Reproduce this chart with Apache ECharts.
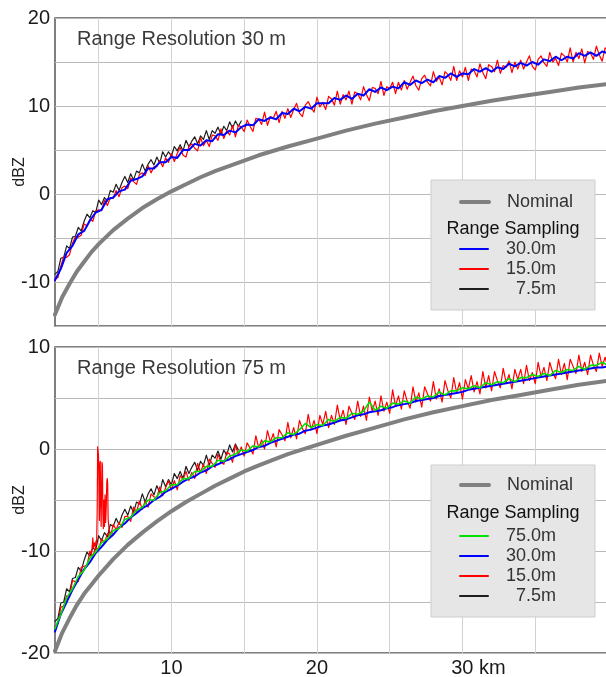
<!DOCTYPE html>
<html>
<head>
<meta charset="utf-8">
<script src="https://cdn.jsdelivr.net/npm/echarts@6/dist/echarts.min.js"></script>
<style>html,body{margin:0;padding:0;background:#fff}#c{width:606px;height:677px}</style>
</head>
<body>
<div id="c"></div>
<script>
// ---------- data ----------
const rangeStartKm = 2.0;      // first range gate shown
const fineStepKm = 0.2;        // spacing of 15.0 m / 7.5 m samples
const coarseStepKm = 0.4;      // spacing of 75.0 m / 30.0 m samples

const xGridKm = [5, 10, 15, 20, 25, 30, 35];
const xLabelKm = [10, 20, 30];
const xLabelText = ['10', '20', '30 km'];

const nominalRangeKm = [2, 2.5, 3, 3.5, 4, 4.5, 5, 5.5, 6, 7, 8, 9, 10, 11, 12, 13, 14, 15, 16, 18, 20, 22, 24, 26, 28, 30, 32, 34, 36, 38, 40];
const nominalTop = [-13.7, -11.7, -10.2, -8.8, -7.7, -6.6, -5.7, -4.9, -4.1, -2.8, -1.6, -0.6, 0.3, 1.1, 1.9, 2.6, 3.2, 3.8, 4.4, 5.4, 6.3, 7.2, 8.0, 8.7, 9.4, 10.0, 10.6, 11.1, 11.6, 12.1, 12.5];
const nominalBottom = [-19.8, -18.0, -16.6, -15.3, -14.2, -13.3, -12.4, -11.6, -10.8, -9.4, -8.2, -7.1, -6.1, -5.2, -4.4, -3.6, -2.9, -2.2, -1.6, -0.5, 0.4, 1.3, 2.1, 2.9, 3.6, 4.2, 4.8, 5.3, 5.8, 6.3, 6.7];

// Top panel (range resolution 30 m)
const top30m = [-9.8,-8.5,-6.7,-5.9,-4.6,-4.2,-3.0,-2.1,-1.8,-0.6,
  -0.4,0.3,0.5,1.5,1.7,2.0,2.9,2.9,3.6,3.6,
  4.2,4.1,5.0,5.0,5.7,5.5,6.1,6.0,6.8,6.7,
  7.2,7.0,7.6,7.9,7.8,8.5,8.3,8.7,8.5,9.2,
  9.1,9.7,9.4,9.9,9.7,10.3,10.3,10.3,10.9,10.7,
  11.2,10.8,11.4,11.2,11.9,11.6,12.1,11.8,12.2,12.0,
  12.7,12.4,12.9,12.6,13.0,12.7,13.4,13.2,13.7,13.3,
  13.7,13.6,14.2,13.9,14.3,13.9,14.4,14.2,14.8,14.5,
  14.9,14.6,15.0,14.7,15.3,15.1,15.6,15.2,15.6,15.4,
  16.0,15.7,16.1,15.7,16.2,16.0];
const top15m = [-9.6,-9.5,-8.2,-7.1,-7.2,-6.9,-5.6,-4.9,-4.9,-4.7,
  -3.4,-3.6,-2.9,-3.1,-1.9,-1.8,-1.9,-0.7,-1.3,-0.4,
  -0.5,0.4,-0.3,0.7,0.9,0.6,1.8,1.4,1.1,2.2,
  2.4,2.1,3.2,2.4,3.1,3.1,3.8,3.1,4.1,3.6,
  4.6,3.7,4.6,5.3,4.4,4.2,5.4,5.7,5.2,4.9,
  6.4,5.5,6.1,5.4,6.7,6.6,6.1,7.4,6.3,7.2,
  6.7,7.8,6.5,7.8,7.6,7.1,8.4,7.7,7.1,8.6,
  8.5,7.9,9.3,7.8,8.8,8.6,9.4,8.1,9.4,8.6,
  9.7,8.7,9.6,10.3,9.2,8.8,10.1,10.5,9.8,9.3,
  11.0,9.9,10.4,9.6,11.1,10.8,10.1,11.7,10.2,11.3,
  10.7,11.7,10.2,11.6,11.4,10.7,12.2,11.3,10.6,12.1,
  12.0,11.4,12.8,11.2,12.2,12.0,12.7,11.4,12.7,11.8,
  12.9,11.9,12.7,13.4,12.3,11.8,13.1,13.5,12.7,12.3,
  13.9,12.8,13.3,12.4,13.9,13.6,12.9,14.5,12.9,14.0,
  13.3,14.4,12.9,14.2,14.0,13.3,14.8,13.8,13.1,14.7,
  14.5,13.9,15.2,13.7,14.6,14.4,15.1,13.8,15.0,14.2,
  15.2,14.2,15.0,15.7,14.5,14.1,15.3,15.7,14.9,14.5,
  16.1,15.0,15.4,14.6,16.0,15.7,15.0,16.6,15.0,16.1,
  15.4,16.5,14.9,16.2,16.0,15.3,16.8,15.8,15.1,16.6,
  16.4];
const top7p5m = [-9.1,-8.8,-7.3,-7.2,-5.9,-6.2,-4.9,-4.8,-3.8,-4.2,
  -3.1,-2.3,-2.7,-1.9,-2.1,-0.7,-1.2,-0.4,-0.8,0.4,
  0.2,1.1,0.4,1.3,2.0,1.3,2.3,1.6,2.6,2.4,
  3.4,2.6,3.4,3.9,3.3,4.2,3.5,4.8,4.2,4.8,
  4.3,5.4,4.9,5.6,4.9,6.1,5.4,6.0,6.5,5.7,
  6.6,6.2,7.2,6.2,7.2,6.9,7.6,6.8,7.7,7.2,
  8.2,7.5,8.3,7.7,8.3];

// Bottom panel (range resolution 75 m)
const bot75m = [-17.6,-16.2,-14.6,-13.7,-12.5,-11.9,-10.7,-10.1,-9.2,-8.8,
  -8.0,-7.8,-6.9,-6.7,-6.0,-5.7,-5.0,-5.0,-4.3,-4.1,
  -3.5,-3.5,-2.9,-2.9,-2.2,-2.2,-1.7,-1.7,-1.1,-1.2,
  -0.7,-0.5,-0.1,-0.2,0.3,0.2,0.8,0.7,1.1,1.1,
  1.6,1.4,1.9,2.5,2.1,2.4,2.3,2.9,2.7,3.1,
  3.0,3.5,3.4,3.7,4.6,3.8,4.2,4.0,4.5,4.4,
  4.7,4.5,5.1,4.9,5.2,5.1,5.6,5.3,5.7,5.7,
  6.0,5.9,6.2,6.0,6.5,6.3,6.6,6.5,6.9,6.6,
  7.0,7.0,7.3,7.1,7.4,7.2,7.7,7.5,7.8,7.7,
  8.1,7.8,8.2,8.2,8.5,8.2];
const bot30m = [-17.9,-16.2,-15.0,-13.8,-12.8,-11.8,-11.1,-10.2,-9.6,-8.9,
  -8.4,-7.7,-7.3,-6.7,-6.3,-5.8,-5.5,-5.0,-4.7,-4.2,
  -3.9,-3.6,-3.2,-2.9,-2.7,-2.3,-2.1,-1.7,-1.5,-1.2,
  -1.0,-0.7,-0.5,-0.3,-0.1,0.2,0.3,0.6,0.8,1.0,
  1.2,1.4,1.5,1.8,1.9,2.1,2.3,2.4,2.6,2.8,
  2.9,3.1,3.3,3.4,3.6,3.7,3.8,4.0,4.1,4.3,
  4.4,4.5,4.7,4.8,4.9,5.0,5.2,5.3,5.4,5.5,
  5.6,5.8,5.9,6.0,6.1,6.2,6.3,6.4,6.5,6.6,
  6.7,6.8,6.9,7.0,7.1,7.2,7.3,7.4,7.5,7.6,
  7.7,7.8,7.9,8.0,8.0,8.1];
const bot15m = [-17.4,-17.1,-15.5,-15.4,-14.4,-14.5,-12.9,-13.0,-13.0,-11.6,
  -11.5,-11.4,-10.0,-10.5,-9.6,-9.9,-8.8,-9.2,-8.3,-8.7,
  -7.4,-7.9,-7.2,-7.7,-6.6,-6.6,-7.1,-5.7,-6.2,-5.1,
  -5.9,-5.1,-5.7,-4.4,-4.7,-4.8,-3.7,-4.6,-3.8,-3.1,
  -4.0,-3.1,-4.0,-2.6,-3.0,-2.2,-3.1,-2.3,-2.9,-1.4,
  -2.3,-1.5,-2.4,-1.0,-1.4,-1.8,-0.5,-1.3,-1.5,-0.3,
  -0.5,-1.3,0.4,-0.6,0.2,-0.7,0.6,0.1,-0.5,1.3,
  0.1,0.9,0.0,1.8,0.7,1.5,0.2,1.9,1.4,0.8,
  2.6,1.1,2.1,1.0,2.8,2.0,1.5,3.4,1.9,2.8,
  1.5,3.3,2.4,3.7,2.1,3.3,2.4,4.3,2.8,3.8,
  2.4,4.2,3.5,2.9,4.7,3.2,4.2,2.8,5.1,3.7,
  4.7,3.3,5.2,3.7,4.6,3.5,5.8,4.2,5.2,3.9,
  5.7,4.7,4.0,6.1,4.6,5.5,4.1,6.1,5.4,4.7,
  6.6,4.9,5.9,4.6,6.7,5.7,5.0,7.0,5.5,6.5,
  4.9,6.8,5.9,7.2,5.6,6.6,5.4,7.6,6.0,7.2,
  5.7,7.6,6.7,6.0,7.9,6.5,7.3,5.9,7.8,6.8,
  7.8,6.4,8.2,6.7,7.5,6.4,8.5,7.1,8.0,6.7,
  8.5,7.5,6.9,8.8,7.3,8.4,6.8,8.8,8.1,7.4,
  9.2,7.6,8.5,7.3,9.2,8.2,7.6,9.4,8.1,9.0,
  7.9];
const bot7p5m = [-16.9,-16.6,-15.1,-15.0,-13.7,-14.0,-12.7,-12.6,-11.6,-12.0,
  -10.9,-10.1,-10.5,-9.7,-9.9,-8.5,-9.0,-8.2,-8.6,-7.4,
  -7.6,-6.8,-7.4,-6.5,-5.9,-6.5,-5.6,-6.2,-5.2,-5.4,
  -4.4,-5.2,-4.4,-3.9,-4.5,-3.6,-4.3,-3.0,-3.7,-3.0,
  -3.5,-2.4,-2.9,-2.2,-2.9,-1.7,-2.4,-1.8,-1.3,-2.1,
  -1.2,-1.6,-0.6,-1.6,-0.6,-0.9,-0.2,-1.0,-0.1,-0.6,
  0.4,-0.3,0.5,-0.1];
// clutter spike in the 15.0 m sampling near 5 km
const spikeRangeKm = [4.50,4.56,4.60,4.64,4.70,4.76,4.82,4.86,4.90,4.93,4.96,4.99,5.02,5.05,5.08,5.11,5.14,5.17,5.20,5.23,5.26,5.29,5.32,5.36,5.40,5.44,5.48,5.52,5.56,5.59,5.62,5.65,5.68,5.72,5.78,5.86,5.94];
const spikeDbz = [-10.4,-9.5,-8.7,-9.7,-9.2,-9.6,-9.0,-9.4,-6.0,0.2,0.1,-0.6,-3.5,-7.0,-1.4,-1.2,-5.5,-7.6,-4.0,-1.3,-1.6,-6.3,-7.8,-5.0,-7.6,-4.5,-7.2,-5.8,-3.2,-2.9,-3.4,-6.8,-7.4,-7.9,-8.4,-8.1,-8.3];

// ---------- chart ----------
const FONT = '"Liberation Sans", Arial, Helvetica, sans-serif';
const NAME_7P5 = '  7.5m';
const C = { nominal: '#808080', blue: '#0000ff', red: '#ff0000', black: '#1e1e1e', green: '#00e000' };

function gates(values, step) {
  return values.map((v, i) => [Math.round((rangeStartKm + i * step) * 100) / 100, v]);
}
function zip(xs, ys) { return ys.map((y, i) => [xs[i], y]); }

function lineSeries(name, data, color, width, idx) {
  return {
    name, type: 'line', data, xAxisIndex: idx, yAxisIndex: idx,
    symbol: 'none', showSymbol: false, color,
    lineStyle: { color, width, join: 'round', cap: 'round' }, smooth: false,
    emphasis: { disabled: true }, silent: true, clip: true
  };
}

const panels = [
  { top: 18, height: 308, min: -15, max: 20, title: 'Range Resolution 30 m' },
  { top: 347, height: 306, min: -20, max: 10, title: 'Range Resolution 75 m' }
];

const legendCommon = {
  orient: 'vertical', padding: 0, itemGap: 0, itemWidth: 28, itemHeight: 2,
  selectedMode: false,
  textStyle: { fontSize: 18, color: '#333', lineHeight: 20, fontFamily: FONT, padding: [0, 0, 0, 13] }
};

const option = {
  animation: false,
  backgroundColor: '#ffffff',
  textStyle: { fontFamily: FONT },
  title: panels.map(p => ({
    text: p.title, left: 77, top: p.top + 11, padding: 0,
    textStyle: { fontSize: 20, fontWeight: 'normal', color: '#3a3a3a', fontFamily: FONT }
  })),
  grid: panels.map(p => ({
    left: 55, right: -2, top: p.top, height: p.height, show: true,
    outerBoundsMode: 'none', containLabel: false,
    borderColor: '#555', borderWidth: 1.5, backgroundColor: 'transparent'
  })),
  xAxis: panels.map((p, i) => ({
    type: 'value', gridIndex: i, min: 2, max: 40.0,
    axisLine: { show: false },
    axisTick: { show: false, customValues: xGridKm },
    splitLine: { show: true, lineStyle: { color: '#d2d2d2', width: 1 } },
    axisLabel: i === 0 ? { show: false } : {
      show: true, customValues: xLabelKm, fontSize: 20, color: '#1a1a1a', margin: 5,
      formatter: v => {
        const t = xLabelText[xLabelKm.indexOf(v)];
        return t && t.indexOf(' ') > 0 ? '{pad| }' + t : (t || '');
      },
      rich: { pad: { width: 32, fontSize: 20 } }
    }
  })),
  yAxis: panels.map((p, i) => ({
    type: 'value', gridIndex: i, min: p.min, max: p.max, interval: 5,
    axisLine: { show: false }, axisTick: { show: false },
    splitLine: { show: true, lineStyle: { color: '#b9b9b9', width: 1 } },
    axisLabel: { fontSize: 20, color: '#1a1a1a', margin: 5, formatter: v => (v % 10 === 0 ? String(v) : '') },
    name: 'dBZ', nameLocation: 'middle', nameRotate: 90, nameGap: 27, nameMoveOverlap: false,
    nameTextStyle: { fontSize: 16, color: '#222' }
  })),
  legend: [
    Object.assign({}, legendCommon, { data: ['Nominal'], left: 459, top: 192, lineStyle: { width: 4 } }),
    Object.assign({}, legendCommon, { data: ['30.0m', '15.0m', NAME_7P5], left: 459, top: 239, lineStyle: { width: 2 } }),
    Object.assign({}, legendCommon, { data: ['Nominal'], left: 459, top: 475, lineStyle: { width: 4 } }),
    Object.assign({}, legendCommon, { data: ['75.0m', '30.0m', '15.0m', NAME_7P5], left: 459, top: 526, lineStyle: { width: 2 } })
  ],
  graphic: [
    { type: 'rect', z: 3, shape: { x: 431, y: 180, width: 164, height: 130 }, style: { fill: '#e6e6e6', stroke: '#cdcdcd', lineWidth: 1 } },
    { type: 'text', z: 5, x: 513, y: 229, style: { text: 'Range Sampling', fontSize: 18, fontFamily: FONT, fill: '#111', align: 'center', verticalAlign: 'middle' } },
    { type: 'rect', z: 3, shape: { x: 431, y: 465, width: 164, height: 152 }, style: { fill: '#e6e6e6', stroke: '#cdcdcd', lineWidth: 1 } },
    { type: 'text', z: 5, x: 513, y: 513, style: { text: 'Range Sampling', fontSize: 18, fontFamily: FONT, fill: '#111', align: 'center', verticalAlign: 'middle' } }
  ],
  series: [
    lineSeries('Nominal', zip(nominalRangeKm, nominalTop), C.nominal, 4, 0),
    lineSeries(NAME_7P5, gates(top7p5m, fineStepKm), C.black, 1.2, 0),
    lineSeries('15.0m', gates(top15m, fineStepKm), C.red, 1.2, 0),
    lineSeries('30.0m', gates(top30m, coarseStepKm), C.blue, 2, 0),

    lineSeries('Nominal', zip(nominalRangeKm, nominalBottom), C.nominal, 4, 1),
    lineSeries(NAME_7P5, gates(bot7p5m, fineStepKm), C.black, 1.2, 1),
    lineSeries('15.0m', gates(bot15m, fineStepKm), C.red, 1.2, 1),
    lineSeries('15.0m', zip(spikeRangeKm, spikeDbz), C.red, 1.2, 1),
    lineSeries('30.0m', gates(bot30m, coarseStepKm), C.blue, 2, 1),
    lineSeries('75.0m', gates(bot75m, coarseStepKm), C.green, 1.6, 1)
  ]
};

const chart = echarts.init(document.getElementById('c'), null, { renderer: 'canvas' });
chart.setOption(option);
</script>
</body>
</html>
